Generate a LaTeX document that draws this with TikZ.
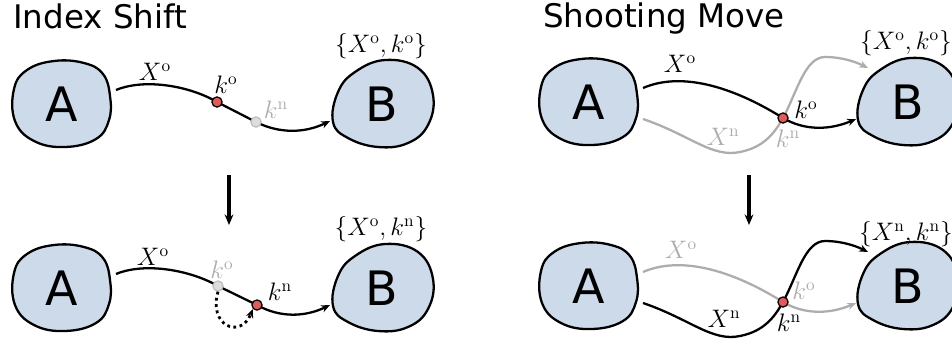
\documentclass[tikz,border=0pt]{standalone}
\usepackage{fontspec}
\usetikzlibrary{arrows.meta}
\newfontfamily\dejavu{DejaVu Sans}
\definecolor{blobblue}{HTML}{CCDAEA}
\definecolor{fadegray}{HTML}{ADADAD}
\definecolor{dotred}{HTML}{E05C5C}
\definecolor{dotgrey}{HTML}{DDDDDD}
\tikzset{
  blob/.style={draw, line width=1.3pt, fill=blobblue},
  blobA/.pic={\draw[blob] plot[smooth cycle, tension=0.7] coordinates
    {(-48,-15) (-35,-34) (-8,-43) (22,-41) (41,-30) (48,-8) (47,16) (34,35) (3,43) (-28,37) (-47,17)};},
  blobB/.pic={\draw[blob] plot[smooth cycle, tension=0.7] coordinates
    {(-50,18) (-45,-12) (-28,-32) (2,-44) (35,-36) (50,-9) (45,21) (25,39) (-5,43) (-35,34)};},
}
\begin{document}
\begin{tikzpicture}[>={Stealth[length=5pt,width=4.2pt]}, x=0.02cm, y=-0.02cm,
    letter/.style={font=\dejavu\fontsize{27}{30}\selectfont},
    title/.style={font=\dejavu\fontsize{18.5}{22}\selectfont, anchor=base west},
    lbl/.style={font=\fontsize{14}{16}\selectfont},
    faded/.style={text=fadegray},
    traj/.style={line width=1.3pt},
    oldtraj/.style={line width=1.3pt, fadegray},
    down/.style={-{Stealth[length=6pt,width=5pt]}, line width=1.8pt},
    reddot/.style={circle, draw, fill=dotred, minimum size=5.8pt, inner sep=0pt, line width=0.7pt},
    greydot/.style={circle, draw=fadegray!80, fill=dotgrey, minimum size=5.8pt, inner sep=0pt, line width=0.7pt}]
    \clip (0,0) rectangle (952,339);

    % Index Shift
    \node[title] (t1) at (7,28) {Index Shift};

    \pic at (62,104) {blobA};
    \pic at (383,104) {blobB};
    \node[letter] (A1) at (62,104) {A};
    \node[letter] (B1) at (382,104) {B};
    \coordinate (s1) at (116,90);
    \coordinate (e1) at (330,121);
    \coordinate (ko1) at (217,102);
    \coordinate (kn1) at (256,122);
    \draw[traj, ->] (s1) .. controls (145,78) and (190,86) .. (ko1) -- (kn1) .. controls (280,134) and (305,133) .. (e1);
    \node[greydot] (dkn1) at (kn1) {};
    \node[reddot] (dko1) at (ko1) {};
    \node[lbl] (lX1) at (155,72) {$X^{\mathrm{o}}$};
    \node[lbl] (lko1) at (226,85) {$k^{\mathrm{o}}$};
    \node[lbl, faded] (lkn1) at (276,110) {$k^{\mathrm{n}}$};
    \node[lbl] (lB1) at (381,46) {$\{X^{\mathrm{o}},k^{\mathrm{o}}\}$};

    \coordinate (d1) at (229,175);
    \coordinate (d2) at (229,225);
    \draw[down] (d1) -- (d2);

    \begin{scope}[shift={(0,184)}]
        \pic at (62,104) {blobA};
        \pic at (383,104) {blobB};
        \node[letter] (A2) at (62,104) {A};
        \node[letter] (B2) at (382,104) {B};
        \coordinate (s2) at (116,90);
        \coordinate (e2) at (330,121);
        \coordinate (ko2) at (218,102);
        \coordinate (kn2) at (257,121);
        \draw[traj, ->] (s2) .. controls (145,78) and (190,86) .. (ko2) -- (kn2) .. controls (280,134) and (305,133) .. (e2);
        \node[greydot] (dko2) at (ko2) {};
        \node[reddot] (dkn2) at (kn2) {};
        \draw[->, dotted, line width=1.6pt] (dko2.south) .. controls (208,141) and (240,156) .. (dkn2.south west);
        \node[lbl] (lX2) at (153,73) {$X^{\mathrm{o}}$};
        \node[lbl, faded] (lko2) at (222,86) {$k^{\mathrm{o}}$};
        \node[lbl] (lkn2) at (280,108) {$k^{\mathrm{n}}$};
        \node[lbl] (lB2) at (381,45) {$\{X^{\mathrm{o}},k^{\mathrm{n}}\}$};
    \end{scope}

    % Shooting Move
    \node[title] (t2) at (537,27) {Shooting Move};

    \pic at (589,102) {blobA};
    \pic at (908,102) {blobB};
    \node[letter] (A3) at (589,102) {A};
    \node[letter] (B3) at (908,102) {B};
    \coordinate (s3o) at (643,88);
    \coordinate (s3n) at (643,119);
    \coordinate (e3o) at (856,119);
    \coordinate (e3n) at (868,68);
    \coordinate (k3) at (783,118);
    \draw[oldtraj, ->] (s3n) .. controls (690,135) and (712,158) .. (740,152) .. controls (765,147) and (775,132) .. (k3)
        .. controls (797,92) and (805,57) .. (825,57) .. controls (842,57) and (856,62) .. (e3n);
    \draw[traj, ->] (s3o) .. controls (680,72) and (730,85) .. (k3) .. controls (805,131) and (830,130) .. (e3o);
    \node[reddot] (dk3) at (k3) {};
    \node[lbl] (lX3) at (680,64) {$X^{\mathrm{o}}$};
    \node[lbl] (lko3) at (806,110) {$k^{\mathrm{o}}$};
    \node[lbl, faded] (lXn3) at (723,137) {$X^{\mathrm{n}}$};
    \node[lbl, faded] (lkn3) at (788,139) {$k^{\mathrm{n}}$};
    \node[lbl] (lB3) at (906,43) {$\{X^{\mathrm{o}},k^{\mathrm{o}}\}$};

    \coordinate (d3) at (749,175);
    \coordinate (d4) at (749,225);
    \draw[down] (d3) -- (d4);

    \begin{scope}[shift={(0,184)}]
        \pic at (589,102) {blobA};
        \pic at (908,102) {blobB};
        \node[letter] (A4) at (589,102) {A};
        \node[letter] (B4) at (908,102) {B};
        \coordinate (s4o) at (643,88);
        \coordinate (s4n) at (643,119);
        \coordinate (e4o) at (856,119);
        \coordinate (e4n) at (868,68);
        \coordinate (k4) at (783,118);
        \draw[oldtraj, ->] (s4o) .. controls (680,72) and (730,85) .. (k4) .. controls (805,131) and (830,130) .. (e4o);
        \draw[traj, ->] (s4n) .. controls (690,135) and (712,158) .. (740,152) .. controls (765,147) and (775,132) .. (k4)
            .. controls (797,92) and (805,57) .. (825,57) .. controls (842,57) and (856,62) .. (e4n);
        \node[reddot] (dk4) at (k4) {};
        \node[lbl, faded] (lX4) at (681,66) {$X^{\mathrm{o}}$};
        \node[lbl, faded] (lko4) at (804,107) {$k^{\mathrm{o}}$};
        \node[lbl] (lXn4) at (724,135) {$X^{\mathrm{n}}$};
        \node[lbl] (lkn4) at (789,139) {$k^{\mathrm{n}}$};
        \node[lbl] (lB4) at (906,50) {$\{X^{\mathrm{n}},k^{\mathrm{n}}\}$};
    \end{scope}
\end{tikzpicture}
\end{document}
